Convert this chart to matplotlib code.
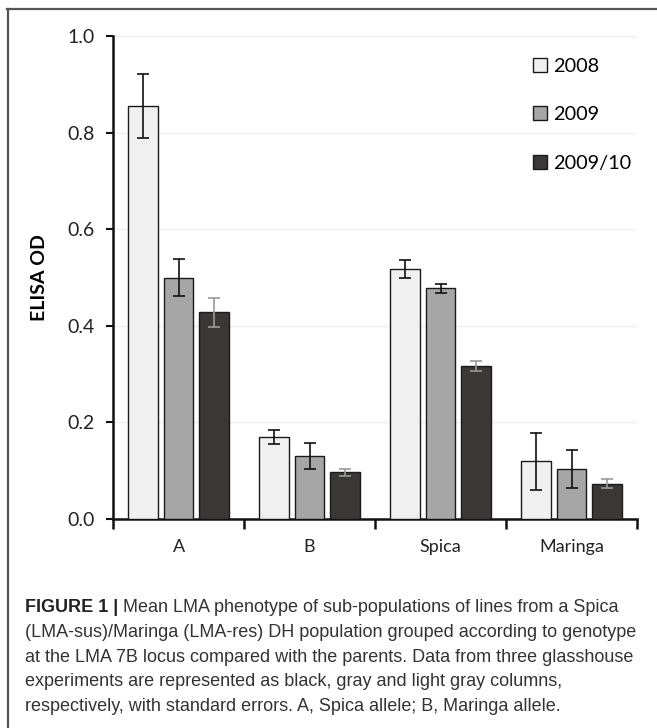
import matplotlib.pyplot as plt
import matplotlib.lines as mlines
import numpy as np

# ELISA OD means and standard errors for each genotype group / parent
groups = ["A", "B", "Spica", "Maringa"]
years = ["2008", "2009", "2009/10"]
od_2008 = [0.855, 0.170, 0.518, 0.120]
od_2009 = [0.500, 0.131, 0.478, 0.104]
od_2010 = [0.428, 0.097, 0.317, 0.073]
se_2008 = [0.067, 0.014, 0.018, 0.059]
se_2009 = [0.038, 0.027, 0.009, 0.040]
se_2010 = [0.030, 0.007, 0.011, 0.009]

yticks = [0.0, 0.2, 0.4, 0.6, 0.8, 1.0]

caption = [
    "Mean LMA phenotype of sub-populations of lines from a Spica",
    "(LMA-sus)/Maringa (LMA-res) DH population grouped according to genotype",
    "at the LMA 7B locus compared with the parents. Data from three glasshouse",
    "experiments are represented as black, gray and light gray columns,",
    "respectively, with standard errors. A, Spica allele; B, Maringa allele.",
]

fills = ["#f0f0f0", "#a6a6a6", "#3b3737"]
err_cols = ["#111111", "#111111", "#9a9a9a"]

fig = plt.figure(figsize=(6.57, 7.28), dpi=100)
ax = fig.add_axes([0.172, 0.287, 0.7976, 0.6635])

x = np.arange(len(groups))
w = 0.227
step = 0.273
series = [(od_2008, se_2008), (od_2009, se_2009), (od_2010, se_2010)]
handles = []
for i, (vals, errs) in enumerate(series):
    pos = x + (i - 1) * step
    b = ax.bar(pos, vals, width=w, color=fills[i], edgecolor="#1a1a1a",
               linewidth=1.0, zorder=3, label=years[i])
    ax.errorbar(pos, vals, yerr=errs, fmt="none", ecolor=err_cols[i],
                elinewidth=1.2, capsize=4.5, capthick=1.2, zorder=4)
    handles.append(b)

ax.set_xlim(-0.5, 3.5)
ax.set_ylim(0, 1.0)
ax.set_yticks(yticks)
ax.set_yticklabels(["%.1f" % t for t in yticks], fontsize=14,
                   family="Lato", color="#222222")
ax.yaxis.grid(True, color="#efefef", linewidth=1.0, zorder=0)
ax.set_axisbelow(True)

# category boundaries carry the x ticks, labels sit in between
ax.set_xticks(np.arange(-0.5, 4.0, 1.0))
ax.set_xticklabels([])
ax.set_xticks(x, minor=True)
ax.set_xticklabels(groups, minor=True, fontsize=13, family="Lato",
                   color="#222222")
ax.tick_params(axis="x", which="major", direction="out", length=7,
               width=1.8, color="#111111")
ax.tick_params(axis="x", which="minor", length=0, pad=14)
ax.tick_params(axis="y", direction="out", length=5, width=1.5,
               color="#111111", pad=8)

for side in ["top", "right"]:
    ax.spines[side].set_visible(False)
ax.spines["left"].set_linewidth(1.8)
ax.spines["bottom"].set_linewidth(1.8)
ax.spines["left"].set_color("#111111")
ax.spines["bottom"].set_color("#111111")

ax.set_ylabel("ELISA OD", fontsize=14, fontweight="bold", family="Lato",
              labelpad=14)

leg = ax.legend(handles=handles, loc="upper left",
                bbox_to_anchor=(0.787, 0.971), frameon=False,
                prop={"family": "Lato", "size": 14.3},
                handlelength=0.7, handleheight=0.7, handletextpad=0.3,
                labelspacing=1.58, borderaxespad=0)
for h in leg.legend_handles:
    h.set_linewidth(1.0)

# frame lines around the figure panel
fig.add_artist(mlines.Line2D([7 / 657, 1.0], [1 - 8.5 / 728, 1 - 8.5 / 728],
                             color="#555555", linewidth=1.6))
fig.add_artist(mlines.Line2D([7.5 / 657, 7.5 / 657], [0, 1 - 8.5 / 728],
                             color="#555555", linewidth=1.6))

# figure caption
cap_x = 25 / 657
cap_y0 = 1 - 608 / 728
dy = 24.6 / 728
t = fig.text(cap_x, cap_y0, "FIGURE 1 | ", fontsize=13, fontweight="bold",
             family="Liberation Sans", color="#222222", va="center")
fig.canvas.draw()
bb = t.get_window_extent()
fig.text(bb.x1 / fig.bbox.width, cap_y0, caption[0], fontsize=13,
         family="Liberation Sans", color="#333333", va="center")
for k, line in enumerate(caption[1:], start=1):
    fig.text(cap_x, cap_y0 - k * dy, line, fontsize=13,
             family="Liberation Sans", color="#333333", va="center")

fig.savefig("out.png", dpi=100)
